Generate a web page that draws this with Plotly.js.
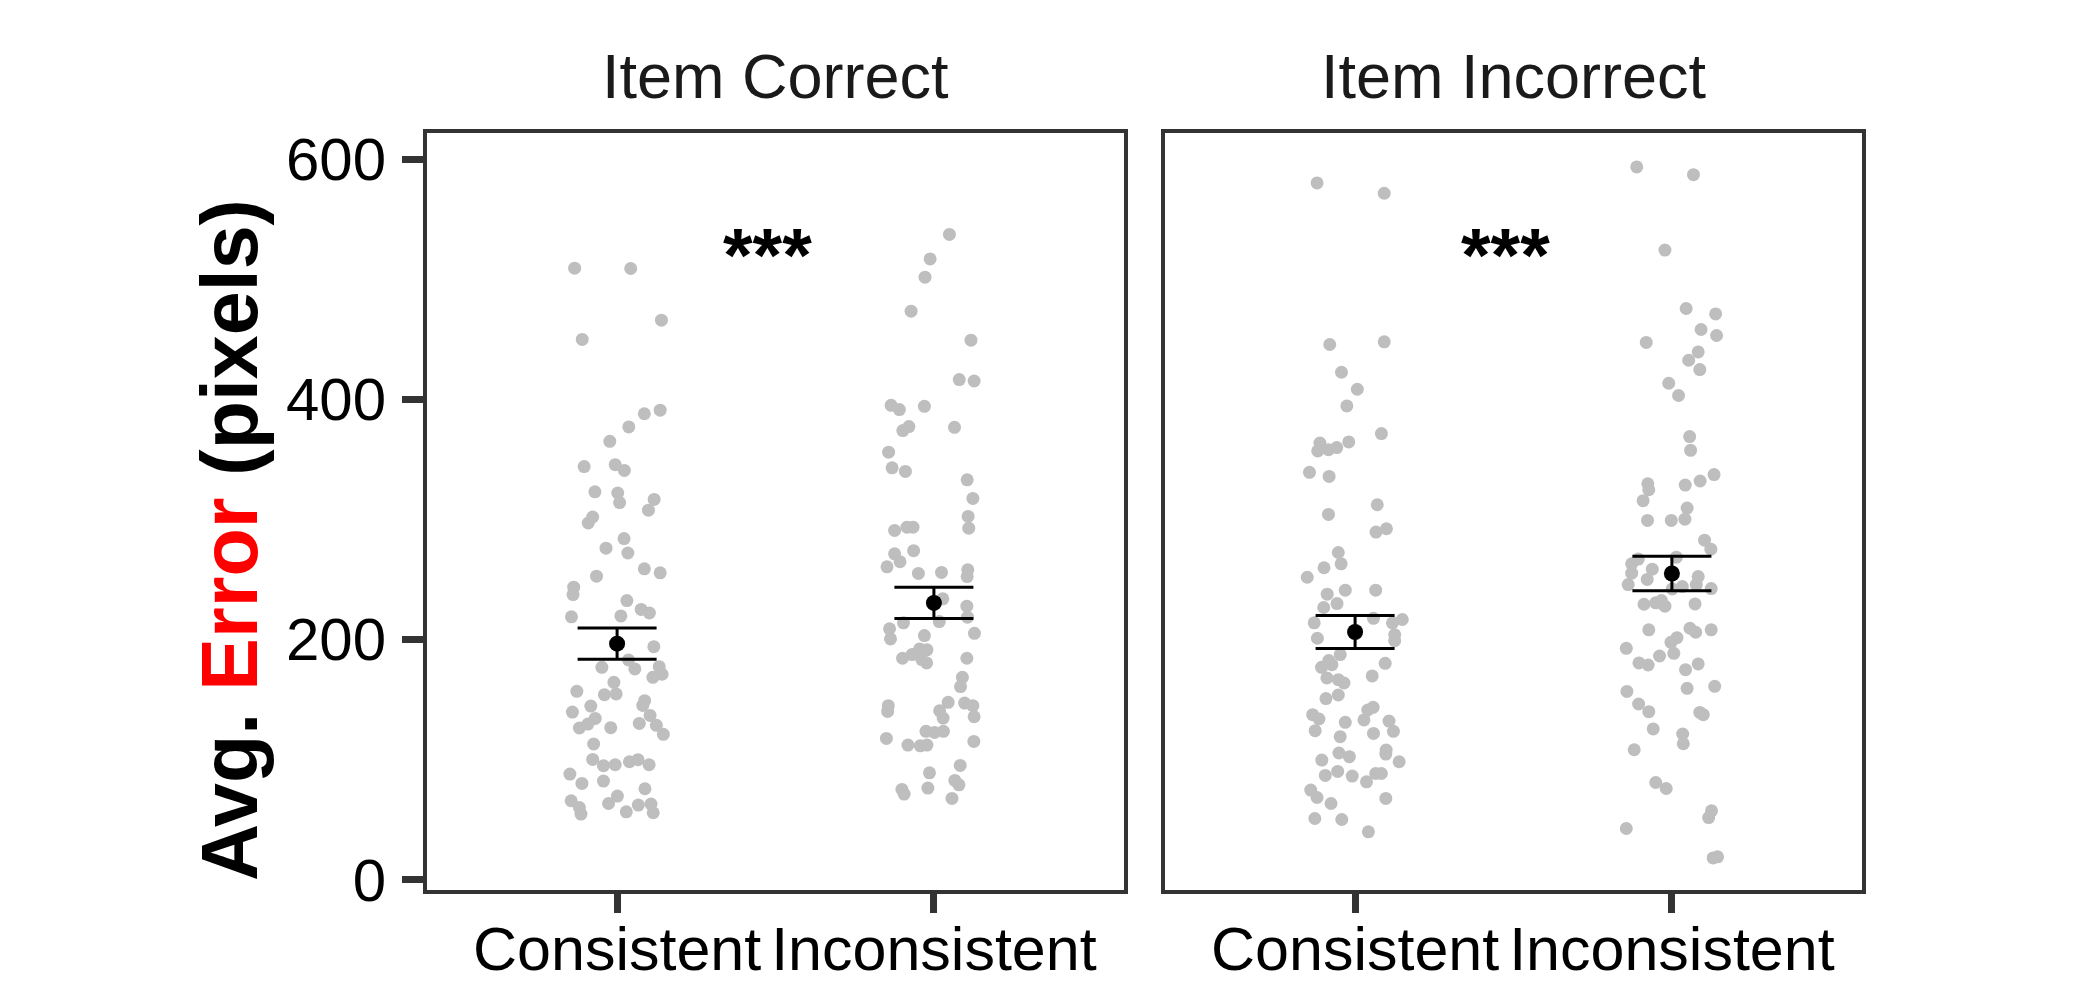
<!DOCTYPE html>
<html>
<head>
<meta charset="utf-8">
<script src="https://cdn.plot.ly/plotly-3.0.1.min.js"></script>
<style>html,body{margin:0;padding:0;background:#fff;}#chart{width:2081px;height:989px;}</style>
</head>
<body>
<div id="chart"></div>
<script>
// ---- data ----
const panels = ["Item Correct", "Item Incorrect"];
const categories = ["Consistent", "Inconsistent"];
const yTicks = [0, 200, 400, 600];
const sigLabel = "***";
const sigX = 1.475;
const sigY = 521;

// Item Correct / Consistent
const correctConsistentVals = [509.3,509,466,449.9,391,388,377,365,344,345.6,340.8,323,322,314,316.6,307.7,302,297,284,276,272,258.8,255.5,252.7,243.5,237.4,232.4,225,222,218.8,219.6,194,182.9,175.4,176.8,177.3,171,168.4,164.3,156.8,154,154.6,149,144.5,145,139.5,136.7,134.2,129.5,126.2,126.5,130,128.4,120.9,112.9,100,94.8,95.6,98.1,99.8,95.6,87.8,80,82,75.6,65.6,60,54.5,63.3,69.5,56.4,62,62.8,55.6];
const correctConsistentJit = [-0.134,0.043,0.140,-0.110,0.136,0.086,0.037,-0.023,-0.104,-0.006,0.023,-0.070,0.002,0.008,0.117,0.099,-0.077,-0.091,0.022,-0.035,0.034,0.086,0.136,-0.065,-0.137,-0.139,0.031,0.076,0.102,-0.144,0.012,0.116,0.036,0.056,-0.048,0.133,0.142,0.113,-0.010,-0.127,-0.040,-0.003,0.087,-0.083,0.081,-0.141,0.104,-0.069,-0.092,-0.119,-0.020,0.070,0.124,0.146,-0.074,-0.077,-0.043,-0.006,0.039,0.066,0.101,-0.149,-0.111,-0.043,0.088,-0.145,-0.119,-0.114,-0.027,0.001,0.029,0.067,0.107,0.114];

// Item Correct / Inconsistent
const correctInconsistentVals = [537.4,517,501.8,473.5,449.3,416.5,415.3,395,391.5,394.2,374,377.3,376.7,356,343,340,333,317.5,302.5,292.7,290.8,293.5,293.5,271.3,264.7,273.9,260.5,255,255.8,258,252.4,233.8,227.7,218.5,214.9,213.8,208.8,200.4,205.1,203.2,184.3,187.4,192.1,191.3,183.2,180.4,184.3,168.4,160.7,144.8,140,147.6,140.6,134.5,147,144.8,135.6,123.4,122.5,123.4,117.5,112,111.4,112,115,95,88.9,82.5,78.9,75,71.2,76.2,67.5];
const correctInconsistentJit = [0.049,-0.012,-0.028,-0.072,0.117,0.080,0.127,-0.135,-0.109,-0.030,-0.098,-0.079,0.065,-0.143,-0.132,-0.090,0.105,0.123,0.108,0.110,-0.124,-0.085,-0.066,-0.124,-0.107,-0.064,-0.148,-0.049,0.024,0.107,0.105,0.028,0.104,0.106,0.017,-0.096,-0.140,-0.137,0.128,-0.030,-0.099,-0.069,-0.045,-0.022,-0.038,-0.023,0.104,0.090,0.084,-0.144,-0.146,0.045,0.018,0.029,0.097,0.123,0.127,-0.025,0.002,0.030,-0.150,-0.082,-0.043,-0.022,0.126,0.083,-0.014,0.066,0.079,-0.101,-0.094,-0.019,0.057];

// Item Incorrect / Consistent
const incorrectConsistentVals = [580.3,571.7,445.7,447.9,422.6,408.4,394.5,371.5,363.6,357,358.1,359.8,364.5,339.2,335.8,312.2,304.1,289.4,292.2,272.4,263,259.7,251.8,237.7,241,241,226.6,229.9,217.6,213.8,213.8,216.6,204,199,201,187.4,182.4,176.8,179,180.1,167.9,166.5,163.7,169.6,150.7,153.7,137.3,133.7,124,130.9,119,132.9,141.2,143.4,121.7,132,123.4,99.5,105.4,102.3,107.9,104.5,98.1,86.7,90,86.2,81.4,88.3,88.3,74.5,68.3,63.3,67.5,50.8,50,39.7];
const incorrectConsistentJit = [-0.120,0.092,-0.080,0.092,-0.043,0.007,-0.026,0.083,-0.111,-0.118,-0.084,-0.058,-0.020,-0.144,-0.082,0.070,-0.084,0.066,0.099,-0.053,-0.044,-0.098,-0.151,-0.088,-0.031,0.065,-0.099,-0.057,0.058,-0.129,0.118,0.149,0.125,0.125,-0.119,-0.047,-0.083,-0.106,-0.073,0.095,-0.089,-0.053,-0.035,0.054,-0.092,-0.053,-0.134,-0.114,-0.126,-0.031,-0.047,0.028,0.040,0.057,0.058,0.107,0.121,-0.105,-0.051,-0.018,0.098,0.097,0.139,-0.094,-0.055,-0.009,0.036,0.065,0.083,-0.140,-0.120,-0.076,0.097,-0.127,-0.042,0.042];

// Item Incorrect / Inconsistent
const incorrectInconsistentVals = [593.6,587.2,524.4,475.7,471.2,458.2,453.2,447.4,439.5,432.6,424.8,413.4,403.2,369,357.5,337.3,332,328.6,329.7,324.7,315.6,309.4,300.2,299.1,299.1,282.7,275.2,266.9,268.5,263,258.5,255.2,252.4,250,245.7,242.1,244,242.4,245.7,229.3,230.5,232.4,227.7,229.6,208,209.3,206,208,192.6,201.5,197.6,188.4,186.2,180.4,178.7,174.8,179.6,156.7,146.2,139.8,159.3,160.9,139.2,137.3,125.4,121.2,113.1,108.1,80.8,75.8,57.2,51.6,42.5,18,18.9];
const incorrectInconsistentJit = [-0.111,0.068,-0.022,0.045,0.138,0.092,0.141,-0.081,0.083,0.053,0.088,-0.010,0.021,0.056,0.059,0.133,0.089,0.042,-0.076,-0.073,-0.091,0.048,0.041,-0.002,-0.077,0.103,0.123,-0.106,0.014,-0.127,-0.062,-0.127,0.083,-0.078,-0.138,0.001,0.033,0.124,0.077,-0.088,-0.051,-0.033,-0.022,0.073,-0.073,0.057,0.075,0.124,-0.144,0.016,-0.003,0.006,-0.039,-0.104,-0.075,0.043,0.083,-0.142,-0.105,-0.073,0.048,0.135,0.088,0.099,-0.059,0.034,0.036,-0.119,-0.051,-0.018,0.125,0.116,-0.144,0.130,0.144];

// means and standard errors (Consistent, Inconsistent)
const correctMeans = [196.5, 230.4];
const correctSE = [13.0, 13.0];
const incorrectMeans = [206.2, 254.9];
const incorrectSE = [13.7, 14.3];

// ---- drawing ----
const FONT = "Liberation Sans, Arial, Helvetica, sans-serif";
const AX = "#333333";
const PT = "#BEBEBE";

function pts(vals, jit, catIdx, xa, ya) {
  return {
    type: "scatter", mode: "markers", xaxis: xa, yaxis: ya,
    x: jit.map(j => catIdx + 1 + j), y: vals,
    marker: {color: PT, size: 13, line: {width: 0}},
    hoverinfo: "skip", showlegend: false
  };
}
function meanTrace(means, se, xa, ya) {
  return {
    type: "scatter", mode: "markers", xaxis: xa, yaxis: ya,
    x: categories.map((c, i) => i + 1), y: means,
    marker: {color: "#000000", size: 16},
    error_y: {type: "data", array: se, visible: true, color: "#000000", thickness: 3, width: 39.5},
    hoverinfo: "skip", showlegend: false
  };
}

const data = [
  pts(correctConsistentVals, correctConsistentJit, 0, "x", "y"),
  pts(correctInconsistentVals, correctInconsistentJit, 1, "x", "y"),
  pts(incorrectConsistentVals, incorrectConsistentJit, 0, "x2", "y2"),
  pts(incorrectInconsistentVals, incorrectInconsistentJit, 1, "x2", "y2"),
  meanTrace(correctMeans, correctSE, "x", "y"),
  meanTrace(incorrectMeans, incorrectSE, "x2", "y2")
];

const W = 2081, H = 989;
const xd1 = [427 / W, 1124 / W], xd2 = [1165 / W, 1862 / W];
const yd = [(H - 890) / H, (H - 133) / H];

const xBase = {
  range: [0.4, 2.6], tickvals: [1, 2], ticktext: categories, tickangle: 0,
  ticks: "outside", ticklen: 19, tickwidth: 7, tickcolor: AX,
  showline: true, linecolor: AX, linewidth: 4, mirror: true,
  showgrid: false, zeroline: false, automargin: false,
  tickfont: {family: FONT, size: 61, color: "#000000"}, ticklabelstandoff: -16, fixedrange: true
};
const yBase = {
  range: [-8.75, 621.9], tickvals: yTicks, ticktext: yTicks.map(String),
  ticks: "outside", ticklen: 21, tickwidth: 7, tickcolor: AX,
  showline: true, linecolor: AX, linewidth: 4, mirror: true,
  showgrid: false, zeroline: false, automargin: false,
  tickfont: {family: FONT, size: 60, color: "#000000"}, ticklabelstandoff: 4, fixedrange: true
};

const layout = {
  width: W, height: H,
  margin: {l: 0, r: 0, t: 0, b: 0},
  paper_bgcolor: "#ffffff", plot_bgcolor: "#ffffff",
  showlegend: false,
  xaxis: Object.assign({}, xBase, {domain: xd1, anchor: "y"}),
  xaxis2: Object.assign({}, xBase, {domain: xd2, anchor: "y2"}),
  yaxis: Object.assign({}, yBase, {domain: yd, anchor: "x"}),
  yaxis2: Object.assign({}, yBase, {domain: yd, anchor: "x2", showticklabels: false, ticks: ""}),
  annotations: [
    {xref: "paper", yref: "paper", x: (xd1[0] + xd1[1]) / 2, y: (H - 76) / H, text: panels[0],
     showarrow: false, xanchor: "center", yanchor: "middle", font: {family: FONT, size: 63, color: "#1a1a1a"}},
    {xref: "paper", yref: "paper", x: (xd2[0] + xd2[1]) / 2, y: (H - 76) / H, text: panels[1],
     showarrow: false, xanchor: "center", yanchor: "middle", font: {family: FONT, size: 63, color: "#1a1a1a"}},
    {xref: "x", yref: "y", x: sigX, y: sigY, text: "<b>" + sigLabel + "</b>", showarrow: false,
     xanchor: "center", yanchor: "middle", font: {family: FONT, size: 76, color: "#000000"}},
    {xref: "x2", yref: "y2", x: sigX, y: sigY, text: "<b>" + sigLabel + "</b>", showarrow: false,
     xanchor: "center", yanchor: "middle", font: {family: FONT, size: 76, color: "#000000"}},
    {xref: "paper", yref: "paper", x: 229 / W, y: (H - 540) / H, textangle: -90,
     text: "<b>Avg. <span style='color:#FF0000'>Error</span> (pixels)</b>", showarrow: false,
     xanchor: "center", yanchor: "middle", font: {family: FONT, size: 79, color: "#000000"}}
  ]
};

Plotly.newPlot("chart", data, layout, {displayModeBar: false, staticPlot: true});
</script>
</body>
</html>
